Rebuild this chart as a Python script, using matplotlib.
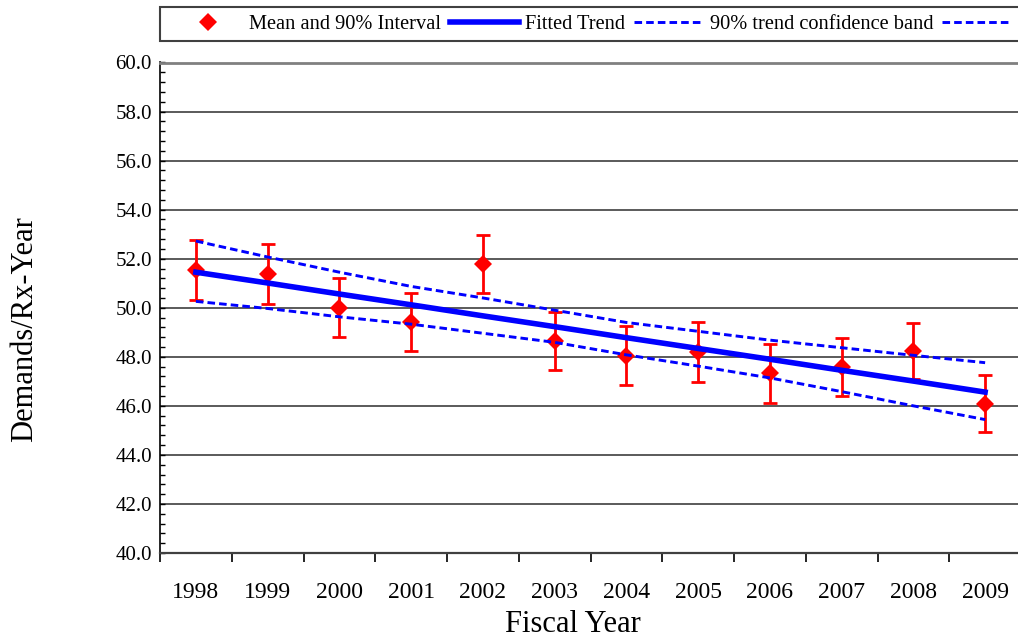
import matplotlib
matplotlib.use('Agg')
import matplotlib.pyplot as plt
import numpy as np
from matplotlib.ticker import MultipleLocator, FixedLocator, NullFormatter, FixedFormatter, FormatStrFormatter
from matplotlib.patches import Rectangle

# ---- data ----
years = ['1998', '1999', '2000', '2001', '2002', '2003',
         '2004', '2005', '2006', '2007', '2008', '2009']
mean_vals = [51.52, 51.39, 50.00, 49.42, 51.78, 48.64, 48.03, 48.20, 47.32, 47.57, 48.24, 46.06]
interval_high = [52.78, 52.61, 51.20, 50.62, 52.98, 49.81, 49.24, 49.40, 48.51, 48.76, 49.39, 47.26]
interval_low = [50.30, 50.16, 48.79, 48.22, 50.59, 47.45, 46.86, 46.98, 46.13, 46.39, 47.10, 44.95]
trend_vals = [51.45, 51.01, 50.56, 50.12, 49.67, 49.23, 48.78, 48.34, 47.90, 47.45, 47.01, 46.56]
band_upper = [52.72, 52.07, 51.45, 50.87, 50.40, 49.90, 49.40, 49.04, 48.68, 48.37, 48.06, 47.76]
band_lower = [50.26, 49.97, 49.63, 49.33, 48.96, 48.59, 48.08, 47.62, 47.14, 46.58, 46.00, 45.44]
legend_labels = ['Mean and 90% Interval', 'Fitted Trend', '90% trend confidence band', '']

plt.rcParams['font.family'] = ['Liberation Serif', 'DejaVu Serif']

W, H = 1018, 638
fig = plt.figure(figsize=(W / 100, H / 100), dpi=100)
ax = fig.add_axes([160 / W, 85 / H, 861 / W, 490.5 / H])

x = np.arange(len(years))
mv = np.array(mean_vals)
yerr = [mv - np.array(interval_low), np.array(interval_high) - mv]

ax.errorbar(x, mv, yerr=yerr, fmt='none', ecolor='#FF0000', elinewidth=2.0,
            capsize=5.0, capthick=2.0, zorder=3)
h_mean, = ax.plot(x, mv, ls='none', marker='D', ms=9, color='#FF0000', mew=0, zorder=4)
h_trend, = ax.plot(x, trend_vals, color='#0000FF', lw=4.0, zorder=5)
h_up, = ax.plot(x, band_upper, color='#0000FF', lw=2.1, dashes=(2.6, 1.4), zorder=5)
h_lo, = ax.plot(x, band_lower, color='#0000FF', lw=2.1, dashes=(2.6, 1.4), zorder=5)

ax.set_xlim(-0.5, 11.5)
ax.set_ylim(40, 60)

# x axis: ticks between categories, labels centred
ax.xaxis.set_major_locator(FixedLocator(np.arange(-0.5, 12, 1)))
ax.xaxis.set_major_formatter(NullFormatter())
ax.xaxis.set_minor_locator(FixedLocator(x))
ax.xaxis.set_minor_formatter(FixedFormatter(years))
ax.tick_params(axis='x', which='major', direction='out', length=6.5, width=1.2, color='black')
ax.tick_params(axis='x', which='minor', length=0, pad=21, labelsize=17)

# y axis
ax.yaxis.set_major_locator(MultipleLocator(2))
ax.yaxis.set_minor_locator(MultipleLocator(0.4))
ax.yaxis.set_major_formatter(FormatStrFormatter('%.1f'))
ax.tick_params(axis='y', which='both', direction='in', length=3.6, width=1.0, pad=5.8,
               labelsize=15, color='black')

ax.yaxis.grid(True, which='major', color='#4d4d4d', lw=1.3)
ax.set_axisbelow(True)

ax.spines['right'].set_visible(False)
ax.spines['top'].set_color('#808080')
ax.spines['top'].set_linewidth(2.0)
ax.spines['left'].set_color('black')
ax.spines['left'].set_linewidth(1.2)
ax.spines['bottom'].set_color('#404040')
ax.spines['bottom'].set_linewidth(1.6)

ax.set_xlabel('Fiscal Year', fontsize=22)
ax.xaxis.set_label_coords(0.4797, -0.161)
ax.xaxis.label.set_va('baseline')

ax.set_ylabel('Demands/Rx-Year', fontsize=22)
ax.yaxis.set_label_coords(-0.1575, 0.4567)
ax.yaxis.label.set_va('center')

# legend frame (extends past right edge like the reference)
fig.add_artist(Rectangle((160 / W, 1 - 41 / H), (1080 - 160) / W, 34 / H,
                         transform=fig.transFigure, facecolor='white',
                         edgecolor='#404040', lw=1.5, zorder=0))
fig.legend([h_mean, h_trend, h_up, h_lo], legend_labels,
           loc='center left', bbox_to_anchor=(173 / W, 1 - 24 / H),
           bbox_transform=fig.transFigure, ncol=4, frameon=False,
           fontsize=14.7, handlelength=3.38, handletextpad=0.34,
           columnspacing=0.42, borderpad=0, borderaxespad=0, numpoints=1)

fig.savefig('out.png', dpi=100)
